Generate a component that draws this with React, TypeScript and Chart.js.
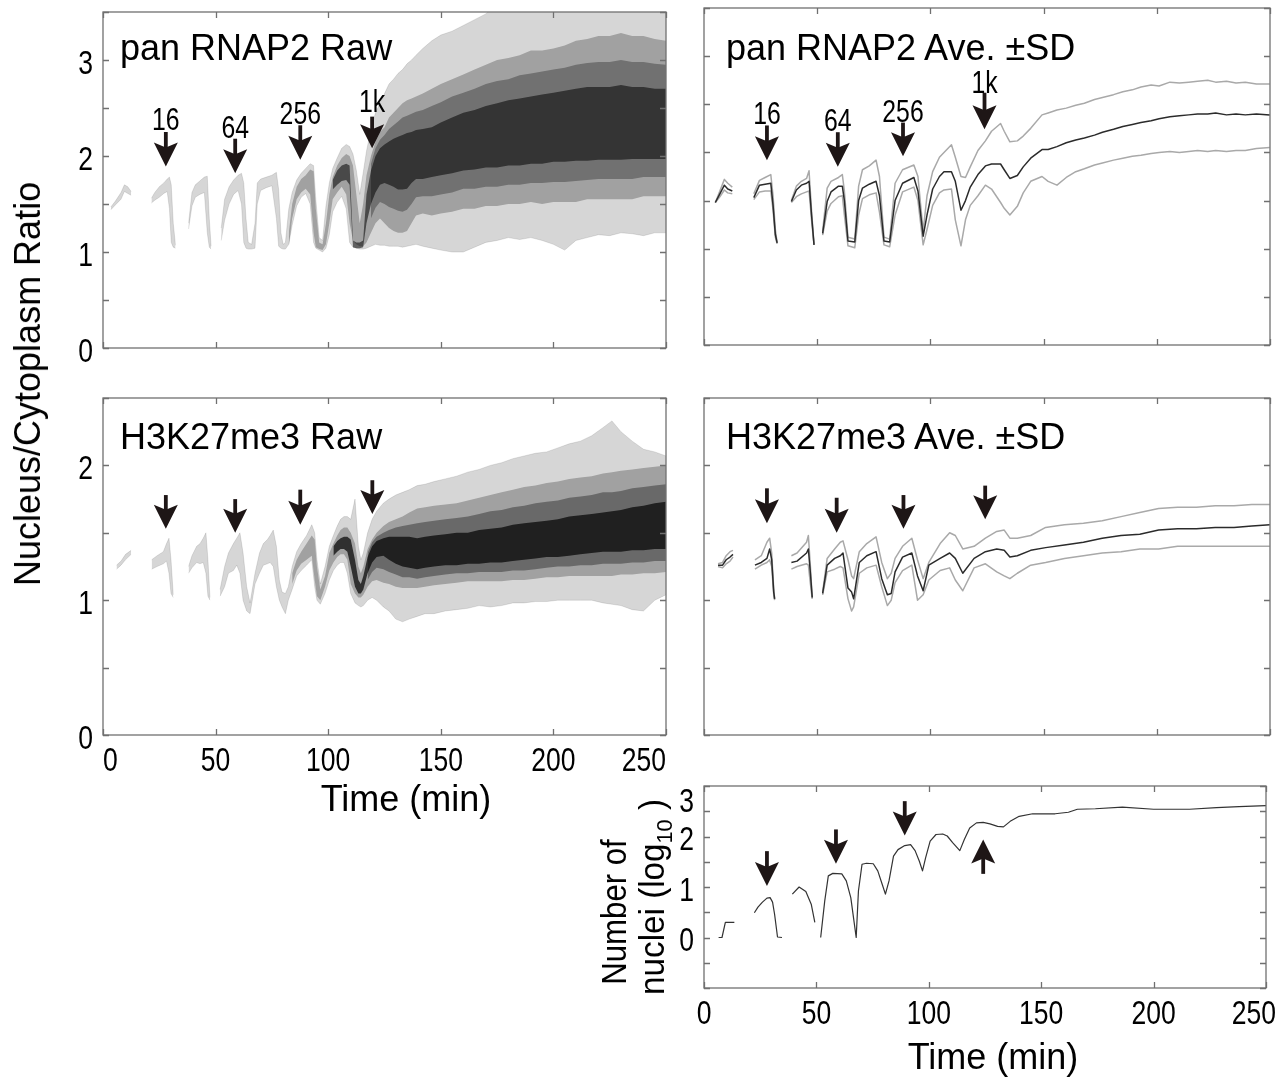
import React, { useEffect, useRef } from "react";
import { Chart, registerables } from "chart.js";
Chart.register(...registerables);

const W = 1286;
const H = 1082;
const OFF = 60;
const FONT = "'Liberation Sans', Arial, Helvetica, sans-serif";
const ARROW = "#1e1616";

// ---------- pan RNAP2 raw: envelope of all traces ----------
const panRawT = [
  3.5, 5.5, 8, 9.5, 11, 12.5, 17,
  21.5, 23, 25, 27, 28.5, 29.5, 30.3, 31.2, 32.2, 35,
  38, 39.5, 41, 43, 45, 46.3, 47.2, 48, 50,
  52.5, 54, 56, 58, 60, 61.5, 62.5, 63.5, 64.5, 66,
  67.5, 68.5, 70, 72.5, 75, 77, 78, 79, 80, 81,
  82.5, 84, 86, 88, 90, 92, 93.5, 94.5, 96, 97.5,
  99, 100.5, 102, 104, 106, 108, 109.5, 111, 112.5, 114,
  115.5, 117, 119, 121, 123, 125, 127, 129, 131, 133,
  135, 137, 139, 142, 146, 150, 155, 160, 165, 170,
  175, 180, 185, 190, 195, 200, 205, 210, 215, 220,
  225, 230, 235, 240, 245, 250,
];
const panOuterHi = [
  1.47, 1.53, 1.62, 1.7, 1.68, 1.63, null,
  1.56, 1.62, 1.68, 1.72, 1.76, 1.78, 1.7, 1.3, 1.07, null,
  1.3, 1.62, 1.7, 1.74, 1.78, 1.79, 1.35, 1.06, null,
  1.25, 1.55, 1.68, 1.75, 1.8, 1.82, 1.72, 1.35, 1.1, 1.08,
  1.3, 1.72, 1.76, 1.78, 1.8, 1.83, 1.65, 1.2, 1.08, 1.1,
  1.45, 1.62, 1.75, 1.82, 1.87, 1.92, 1.9, 1.55, 1.15, 1.12,
  1.48, 1.72, 1.87, 1.98, 2.08, 2.12, 2.1, 2.02, 1.85, 1.6,
  1.82, 2.05, 2.28, 2.45, 2.55, 2.65, 2.75, 2.8, 2.86, 2.9,
  2.96, 3.0, 3.05, 3.12, 3.2, 3.26, 3.3, 3.36, 3.42, 3.48,
  3.6, 3.6, 3.6, 3.6, 3.6, 3.6, 3.6, 3.6, 3.6, 3.6,
  3.6, 3.6, 3.6, 3.6, 3.6, 3.6,
];
const panOuterLo = [
  1.44, 1.49, 1.55, 1.63, 1.61, 1.59, null,
  1.51, 1.54, 1.57, 1.61, 1.63, 1.45, 1.1, 1.05, 1.04, null,
  1.24, 1.48, 1.57, 1.6, 1.62, 1.2, 1.05, 1.03, null,
  1.12, 1.33, 1.5, 1.6, 1.64, 1.5, 1.1, 1.04, 1.03, 1.03,
  1.04, 1.5, 1.64, 1.67, 1.69, 1.35, 1.06, 1.04, 1.03, 1.03,
  1.08, 1.28, 1.48, 1.57, 1.61, 1.5, 1.1, 1.04, 1.02, 1.0,
  1.04, 1.18, 1.42, 1.52, 1.58, 1.45, 1.1, 1.05, 1.04, 1.03,
  1.03, 1.04, 1.06, 1.08, 1.07, 1.07, 1.06, 1.06, 1.06, 1.05,
  1.06, 1.07, 1.08, 1.06, 1.04, 1.02, 1.0, 1.0, 1.05, 1.1,
  1.12, 1.15, 1.13, 1.15, 1.12, 1.08, 1.02, 1.12, 1.15, 1.18,
  1.17, 1.2, 1.19, 1.17, 1.2, 1.2,
];
// denser parts of the pan RNAP2 cloud
const panDenseT = [
  82.5, 84, 86, 88, 90, 92, 93.5, 94.5, 96, 97.5, 99,
  100.5, 102, 104, 106, 108, 109.5, 111, 112.5, 114, 115.5,
  117, 119, 121, 123, 125, 127, 129, 131, 133, 135,
  137, 139, 142, 146, 150, 155, 160, 165, 170, 175,
  180, 185, 190, 195, 200, 205, 210, 215, 220, 225,
  230, 235, 240, 245, 250,
];
const panMidLo = [
  1.06, 1.35, 1.55, 1.62, 1.66, 1.6, 1.2, 1.05, 1.03, 1.02, 1.08,
  1.3, 1.55, 1.62, 1.68, 1.6, 1.3, 1.12, 1.08, 1.06, 1.06,
  1.1, 1.2, 1.3, 1.35, 1.3, 1.25, 1.22, 1.2, 1.2, 1.22,
  1.3, 1.38, 1.4, 1.38, 1.4, 1.42, 1.45, 1.45, 1.48, 1.48,
  1.5, 1.5, 1.52, 1.5, 1.52, 1.52, 1.52, 1.55, 1.55, 1.55,
  1.55, 1.55, 1.58, 1.58, 1.58,
];
const panMidHi = [
  1.2, 1.5, 1.68, 1.76, 1.8, 1.86, 1.84, 1.45, 1.1, 1.08, 1.3,
  1.6, 1.78, 1.9, 1.98, 2.02, 2.0, 1.9, 1.6, 1.3, 1.5,
  1.8, 2.0, 2.15, 2.25, 2.3, 2.4, 2.45, 2.5, 2.55, 2.58,
  2.6, 2.62, 2.65, 2.7, 2.75, 2.8, 2.85, 2.9, 2.95, 3.0,
  3.02, 3.05, 3.1, 3.1, 3.12, 3.15, 3.2, 3.22, 3.25, 3.25,
  3.28, 3.25, 3.25, 3.22, 3.2,
];
const panInnerLo = [
  null, null, null, null, null, null, null, null, null, null, null,
  null, null, null, null, null, null, null, null, null, null,
  null, 1.35, 1.46, 1.52, 1.5, 1.47, 1.45, 1.43, 1.42, 1.44,
  1.5, 1.57, 1.58, 1.58, 1.6, 1.62, 1.66, 1.66, 1.68, 1.68,
  1.7, 1.7, 1.72, 1.72, 1.73, 1.73, 1.74, 1.75, 1.76, 1.76,
  1.76, 1.76, 1.78, 1.78, 1.78,
];
const panInnerHi = [
  null, null, null, null, null, null, null, null, null, null, null,
  null, null, null, null, null, null, null, null, null, null,
  null, 1.92, 2.08, 2.17, 2.22, 2.28, 2.32, 2.36, 2.4, 2.42,
  2.44, 2.46, 2.48, 2.52, 2.56, 2.62, 2.66, 2.7, 2.75, 2.78,
  2.8, 2.84, 2.86, 2.88, 2.9, 2.92, 2.95, 2.97, 2.98, 2.98,
  3.0, 2.98, 2.98, 2.96, 2.95,
];
const panCoreLo = [
  null, null, null, null, null, null, null, null, null, null, null,
  null, 1.65, 1.7, 1.74, 1.75, 1.7, 1.05, 1.04, 1.04, 1.05,
  1.3, 1.5, 1.62, 1.7, 1.72, 1.7, 1.68, 1.65, 1.65, 1.66,
  1.72, 1.76, 1.76, 1.78, 1.8, 1.82, 1.85, 1.86, 1.88, 1.88,
  1.9, 1.9, 1.92, 1.92, 1.94, 1.94, 1.95, 1.95, 1.96, 1.96,
  1.96, 1.97, 1.97, 1.97, 1.97,
];
const panCoreHi = [
  null, null, null, null, null, null, null, null, null, null, null,
  null, 1.75, 1.85, 1.9, 1.92, 1.9, 1.12, 1.1, 1.1, 1.12,
  1.6, 1.85, 2.0, 2.08, 2.12, 2.15, 2.18, 2.2, 2.22, 2.24,
  2.25, 2.27, 2.28, 2.3, 2.35, 2.4, 2.45, 2.48, 2.52, 2.55,
  2.58, 2.6, 2.62, 2.64, 2.66, 2.68, 2.7, 2.72, 2.72, 2.72,
  2.74, 2.72, 2.72, 2.7, 2.7,
];

// ---------- pan RNAP2 average +- SD ----------
const panAveT = [
  5, 7, 9, 10.5, 12.5, 17,
  22, 24.5, 27, 29.5, 30.5, 31.5, 32.3, 35,
  38.6, 40.8, 43, 45.3, 46.4, 47.5, 48.6, 50,
  52.4, 54.4, 56.1, 59.4, 61.1, 62, 63.6, 66.6, 68.3, 70,
  73, 76, 77.5, 79.5, 82, 84.4, 87.7, 92.7, 94.5, 96.8,
  98.5, 101, 104, 106, 109.3, 111, 113.5, 115.5, 117.6, 121,
  124.3, 127, 131, 132.6, 135.1, 138.4, 141, 144.3, 149.3, 152,
  155.9, 160, 164.2, 168, 172.5, 176, 180.9, 185, 189.2, 193,
  197.5, 201, 205.8, 210, 214.1, 218, 222.5, 226, 230.8, 235,
  239.1, 244, 249.9,
];
const panMean = [
  1.48, 1.57, 1.66, 1.62, 1.6, null,
  1.53, 1.66, 1.67, 1.68, 1.45, 1.15, 1.06, null,
  1.49, 1.61, 1.66, 1.68, 1.7, 1.35, 1.04, null,
  1.16, 1.49, 1.59, 1.65, 1.65, 1.5, 1.08, 1.07, 1.5, 1.63,
  1.67, 1.7, 1.55, 1.08, 1.07, 1.5, 1.68, 1.74, 1.6, 1.13,
  1.35, 1.62, 1.75, 1.8, 1.8, 1.7, 1.4, 1.5, 1.64, 1.77,
  1.86, 1.88, 1.88, 1.82, 1.73, 1.76, 1.85, 1.94, 2.03, 2.03,
  2.06, 2.1, 2.13, 2.15, 2.18, 2.21, 2.24, 2.27, 2.29, 2.31,
  2.33, 2.35, 2.37, 2.38, 2.39, 2.4, 2.4, 2.41, 2.39, 2.4,
  2.39, 2.4, 2.39,
];
const panUpper = [
  1.48, 1.6, 1.72, 1.68, 1.64, null,
  1.57, 1.71, 1.74, 1.77, 1.55, 1.2, 1.06, null,
  1.5, 1.65, 1.7, 1.73, 1.81, 1.4, 1.04, null,
  1.18, 1.63, 1.7, 1.74, 1.77, 1.6, 1.12, 1.1, 1.65, 1.82,
  1.86, 1.92, 1.75, 1.12, 1.1, 1.68, 1.82, 1.87, 1.75, 1.18,
  1.55, 1.8, 1.95, 2.0, 2.08, 1.95, 1.75, 1.74, 1.85, 2.02,
  2.12, 2.22, 2.3, 2.22, 2.11, 2.12, 2.17, 2.25, 2.39, 2.41,
  2.44, 2.46, 2.49, 2.51, 2.55, 2.57, 2.6, 2.63, 2.65, 2.68,
  2.7, 2.69, 2.73, 2.72, 2.73, 2.74, 2.75, 2.73, 2.74, 2.72,
  2.73, 2.71, 2.71,
];
const panLower = [
  1.48, 1.54, 1.61, 1.58, 1.57, null,
  1.51, 1.59, 1.6, 1.6, 1.4, 1.12, 1.05, null,
  1.48, 1.54, 1.57, 1.59, 1.6, 1.3, 1.04, null,
  1.14, 1.39, 1.47, 1.54, 1.55, 1.35, 1.03, 1.01, 1.35, 1.52,
  1.56, 1.58, 1.38, 1.04, 1.02, 1.35, 1.59, 1.64, 1.5, 1.04,
  1.2, 1.45, 1.58, 1.61, 1.62, 1.3, 1.03, 1.3, 1.45, 1.55,
  1.66, 1.62, 1.48, 1.42, 1.35, 1.44, 1.58, 1.7, 1.75, 1.7,
  1.66, 1.74, 1.8, 1.83, 1.87, 1.89, 1.92, 1.94, 1.96, 1.97,
  1.99, 2.0, 2.01, 2.0, 2.01, 2.02, 2.01, 2.02, 2.01, 2.02,
  2.02, 2.04, 2.05,
];

// ---------- H3K27me3 raw: envelope of all traces ----------
const h3RawT = [
  6, 8, 10, 12.5, 16,
  21.6, 24, 26.8, 28.2, 29.3, 30.2, 31.2, 34,
  38, 39.5, 41.6, 43.1, 44.5, 45.7, 46.6, 47.5, 50,
  52, 54, 55.7, 57.9, 59.4, 60.8, 62.2, 63.8, 65.3, 67.5,
  69.5, 71.2, 73, 74.2, 75.6, 77, 78.3, 79.5, 81, 82.3,
  84, 86, 88, 90.4, 92.7, 94, 95, 96.5, 98.6, 100.5,
  102.3, 104, 105.5, 107, 108.5, 110, 111.9, 113.4, 114.5, 115.6,
  117.5, 119.5, 121.5, 124.5, 127, 130, 133, 136, 139.5, 143,
  147, 152, 157, 162, 167, 172, 177, 182, 187, 192,
  197, 202, 207, 212, 217, 222, 226, 230, 235, 240,
  245, 250,
];
const h3OuterHi = [
  1.26, 1.29, 1.34, 1.37, null,
  1.3, 1.33, 1.36, 1.42, 1.46, 1.3, 1.04, null,
  1.25, 1.33, 1.4, 1.42, 1.46, 1.5, 1.3, 1.02, null,
  1.08, 1.25, 1.35, 1.42, 1.46, 1.5, 1.35, 1.1, 0.98, 1.2,
  1.35, 1.42, 1.45, 1.48, 1.52, 1.4, 1.15, 1.06, 1.05, 1.1,
  1.25, 1.36, 1.42, 1.48, 1.56, 1.5, 1.3, 1.12, 1.25, 1.4,
  1.48, 1.55, 1.6, 1.62, 1.62, 1.6, 1.75, 1.4, 1.3, 1.35,
  1.5, 1.6, 1.66, 1.72, 1.75, 1.78, 1.8, 1.82, 1.85, 1.86,
  1.88, 1.9, 1.92, 1.95, 1.97, 2.0, 2.02, 2.05, 2.07, 2.09,
  2.1, 2.13, 2.16, 2.18, 2.22, 2.28, 2.33, 2.25, 2.18, 2.12,
  2.1, 2.07,
];
const h3OuterLo = [
  1.23, 1.26, 1.3, 1.34, null,
  1.23, 1.25, 1.27, 1.29, 1.2, 1.05, 1.02, null,
  1.2, 1.24, 1.28, 1.27, 1.28, 1.2, 1.03, 1.0, null,
  1.03, 1.1, 1.2, 1.22, 1.26, 1.2, 1.0, 0.92, 0.9, 1.12,
  1.2, 1.26, 1.27, 1.28, 1.25, 1.1, 1.0, 0.95, 0.9, 1.0,
  1.08, 1.18, 1.22, 1.26, 1.3, 1.1, 1.0, 0.97, 1.05, 1.15,
  1.22, 1.26, 1.28, 1.28, 1.2, 1.05, 0.98, 0.96, 0.95, 0.96,
  1.0, 1.02, 1.0, 0.95, 0.92, 0.86, 0.84, 0.86, 0.88, 0.9,
  0.9, 0.92, 0.93, 0.94, 0.96, 0.95, 0.96, 0.98, 0.98, 0.99,
  0.99, 1.0, 1.0, 1.0, 1.0, 0.98, 0.97, 0.96, 0.93, 0.92,
  1.0, 1.04,
];
const h3DenseT = [
  84, 86, 88, 90.4, 92.7, 94, 95, 96.5, 98.6,
  100.5, 102.3, 104, 105.5, 107, 108.5, 110, 111.9, 113.4, 114.5,
  115.6, 117.5, 119.5, 121.5, 124.5, 127, 130, 133, 136, 139.5,
  143, 147, 152, 157, 162, 167, 172, 177, 182, 187,
  192, 197, 202, 207, 212, 217, 222, 226, 230, 235,
  240, 245, 250,
];
const h3MidLo = [
  1.12, 1.22, 1.27, 1.3, 1.33, 1.15, 1.03, 1.0, 1.1,
  1.22, 1.28, 1.32, 1.34, 1.34, 1.3, 1.12, 1.05, 1.02, 1.02,
  1.04, 1.1, 1.14, 1.15, 1.13, 1.12, 1.1, 1.09, 1.09, 1.09,
  1.1, 1.11, 1.12, 1.13, 1.14, 1.14, 1.14, 1.14, 1.15, 1.15,
  1.16, 1.17, 1.17, 1.18, 1.18, 1.18, 1.18, 1.18, 1.19, 1.19,
  1.2, 1.2, 1.21,
];
const h3MidHi = [
  1.2, 1.3, 1.36, 1.42, 1.48, 1.45, 1.25, 1.08, 1.18,
  1.35, 1.42, 1.48, 1.52, 1.54, 1.54, 1.5, 1.42, 1.25, 1.2,
  1.25, 1.38, 1.45, 1.5, 1.55, 1.58, 1.6, 1.62, 1.65, 1.68,
  1.69, 1.7, 1.71, 1.72, 1.74, 1.76, 1.78, 1.8, 1.82, 1.84,
  1.85, 1.87, 1.88, 1.9, 1.91, 1.92, 1.94, 1.95, 1.96, 1.97,
  1.98, 1.99, 2.0,
];
const h3InnerLo = [
  null, null, null, null, null, null, null, null, null,
  null, null, null, null, null, null, null, null, null, null,
  null, 1.15, 1.21, 1.24, 1.23, 1.21, 1.19, 1.17, 1.17, 1.16,
  1.17, 1.18, 1.19, 1.2, 1.2, 1.21, 1.21, 1.21, 1.22, 1.22,
  1.23, 1.24, 1.25, 1.25, 1.26, 1.26, 1.27, 1.27, 1.27, 1.28,
  1.28, 1.29, 1.29,
];
const h3InnerHi = [
  null, null, null, null, null, null, null, null, null,
  null, null, null, null, null, null, null, null, null, null,
  null, 1.35, 1.43, 1.47, 1.5, 1.52, 1.54, 1.55, 1.56, 1.57,
  1.58, 1.59, 1.6, 1.61, 1.62, 1.64, 1.66, 1.67, 1.69, 1.7,
  1.72, 1.73, 1.74, 1.76, 1.77, 1.78, 1.8, 1.8, 1.81, 1.83,
  1.84, 1.85, 1.86,
];
const h3CoreLo = [
  null, null, null, null, null, null, null, null, null,
  null, 1.33, 1.36, 1.38, 1.38, 1.36, 1.25, 1.1, 1.05, 1.05,
  1.08, 1.2, 1.28, 1.32, 1.33, 1.3, 1.27, 1.25, 1.24, 1.23,
  1.24, 1.25, 1.26, 1.26, 1.27, 1.27, 1.28, 1.28, 1.29, 1.3,
  1.31, 1.32, 1.32, 1.33, 1.34, 1.35, 1.36, 1.36, 1.36, 1.37,
  1.37, 1.38, 1.38,
];
const h3CoreHi = [
  null, null, null, null, null, null, null, null, null,
  null, 1.4, 1.44, 1.46, 1.47, 1.47, 1.45, 1.3, 1.15, 1.12,
  1.18, 1.32, 1.4, 1.44, 1.46, 1.47, 1.47, 1.47, 1.47, 1.46,
  1.47, 1.48, 1.49, 1.5, 1.5, 1.52, 1.53, 1.54, 1.56, 1.57,
  1.58, 1.59, 1.6, 1.62, 1.63, 1.64, 1.65, 1.66, 1.67, 1.69,
  1.7, 1.72, 1.73,
];

// ---------- H3K27me3 average +- SD ----------
const h3AveT = [
  6.2, 8.2, 9.8, 11.5, 12.8, 16,
  22.5, 25.3, 27.8, 29, 29.9, 30.8, 31.2, 34,
  38.6, 41.1, 45.3, 46.1, 47, 47.8, 50,
  52.4, 54.4, 57.7, 60.2, 61.4, 63.6, 65.2, 66.1, 68.6, 71.9,
  76, 78.5, 81, 82.7, 84.4, 87.7, 91.8, 94.3, 96.8, 99.3,
  104.3, 108.5, 111, 114.3, 119.3, 124.3, 129.3, 132.6, 135.1, 138.4,
  144.3, 150.9, 159.2, 167.6, 175.9, 184.2, 192.5, 200.8, 209.2, 217.5,
  225.8, 234.1, 242, 249.9,
];
const h3Mean = [
  1.26, 1.26, 1.3, 1.32, 1.34, null,
  1.26, 1.28, 1.31, 1.38, 1.3, 1.06, 1.01, null,
  1.28, 1.29, 1.35, 1.38, 1.2, 1.02, null,
  1.05, 1.26, 1.31, 1.33, 1.35, 1.09, 1.06, 1.01, 1.28, 1.33,
  1.36, 1.16, 1.04, 1.05, 1.21, 1.32, 1.35, 1.18, 1.07, 1.26,
  1.31, 1.35, 1.31, 1.2, 1.31, 1.36, 1.38, 1.37, 1.32, 1.33,
  1.37, 1.39, 1.41, 1.43, 1.46, 1.48, 1.49, 1.52, 1.53, 1.53,
  1.54, 1.54, 1.55, 1.56,
];
const h3Upper = [
  1.27, 1.28, 1.33, 1.36, 1.37, null,
  1.3, 1.33, 1.43, 1.46, 1.35, 1.08, 1.01, null,
  1.33, 1.35, 1.43, 1.48, 1.25, 1.02, null,
  1.06, 1.31, 1.38, 1.43, 1.44, 1.3, 1.18, 1.16, 1.36, 1.42,
  1.47, 1.28, 1.16, 1.2, 1.31, 1.4, 1.46, 1.3, 1.16, 1.28,
  1.42, 1.5, 1.48, 1.38, 1.4, 1.46, 1.51, 1.52, 1.46, 1.46,
  1.48, 1.54, 1.56, 1.57, 1.59, 1.62, 1.65, 1.68, 1.69, 1.69,
  1.7, 1.7, 1.71, 1.71,
];
const h3Lower = [
  1.25, 1.24, 1.27, 1.29, 1.32, null,
  1.23, 1.26, 1.28, 1.3, 1.25, 1.04, 1.0, null,
  1.23, 1.25, 1.27, 1.26, 1.12, 1.01, null,
  1.04, 1.21, 1.23, 1.25, 1.24, 1.01, 0.92, 0.95, 1.2, 1.24,
  1.26, 1.1, 0.96, 1.0, 1.13, 1.22, 1.26, 1.0, 1.04, 1.15,
  1.22, 1.24, 1.15, 1.07, 1.24, 1.27, 1.21, 1.18, 1.16, 1.2,
  1.26, 1.28, 1.31, 1.33, 1.35, 1.36, 1.38, 1.38, 1.4, 1.4,
  1.4, 1.4, 1.4, 1.4,
];

// ---------- Number of nuclei (log10) ----------
const nucT = [
  6.5, 8, 9.5, 13.5, 18,
  22.4, 24, 26, 28, 29.4, 30.5, 31.4, 32.7, 34.7, 37,
  39.3, 42.3, 45.3, 47.7, 49.3, 50.5,
  51.9, 53.7, 55.3, 57.3, 61.3, 63.3, 65.3, 66.7, 67.7, 68.7,
  70.3, 72.3, 75.3, 77.3, 79.3, 80.7, 82.3, 84.3, 86.3, 89.3,
  91.9, 93.9, 95.8, 97.2, 98.6, 100.6, 103.2, 106.2, 108.2, 110.6,
  113.8, 115.8, 118.2, 121.2, 124.2, 127.2, 130.6, 133.2, 136.2, 140.2,
  146.2, 156.2, 162.1, 166.1, 174.1, 186.1, 200, 216, 228, 238,
  250,
];
const nucLog = [
  0, 0, 0.3, 0.3, null,
  0.49, 0.6, 0.7, 0.78, 0.79, 0.7, 0.46, 0.01, 0, null,
  0.86, 1.0, 0.91, 0.66, 0.3, null,
  0, 0.72, 1.22, 1.27, 1.26, 1.12, 0.79, 0.33, 0, 0.92,
  1.45, 1.47, 1.46, 1.32, 1.05, 0.86, 1.12, 1.61, 1.74, 1.82,
  1.84, 1.72, 1.51, 1.32, 1.58, 1.91, 2.04, 2.05, 2.01, 1.88,
  1.72, 1.94, 2.17, 2.27, 2.28, 2.25, 2.2, 2.19, 2.3, 2.4,
  2.45, 2.45, 2.48, 2.54, 2.55, 2.58, 2.54, 2.54, 2.57, 2.59,
  2.61,
];

// ---------- arrows (time, tip, tail, label, label height) ----------
const cycleLabels = ["16", "64", "256", "1k"];
const panRawArrowT = [27.9, 58.7, 87.6, 119.5];
const panRawArrowTip = [1.89, 1.82, 1.96, 2.08];
const panRawArrowTail = [2.25, 2.18, 2.32, 2.41];
const panRawLabelY = [2.39, 2.3, 2.45, 2.57];
const panAveArrowT = [27.8, 59.1, 87.9, 123.9];
const panAveArrowTip = [1.92, 1.85, 1.96, 2.24];
const panAveArrowTail = [2.28, 2.21, 2.31, 2.62];
const panAveLabelY = [2.41, 2.34, 2.43, 2.73];
const h3RawArrowT = [27.9, 58.7, 87.6, 119.6];
const h3RawArrowTip = [1.53, 1.5, 1.56, 1.64];
const h3RawArrowTail = [1.78, 1.75, 1.82, 1.89];
const h3AveArrowT = [27.8, 58.6, 88.1, 124.2];
const h3AveArrowTip = [1.57, 1.5, 1.53, 1.6];
const h3AveArrowTail = [1.83, 1.76, 1.78, 1.85];
const nucArrowT = [28, 58.7, 89.3, 124.2];
const nucArrowTip = [1.02, 1.46, 2.02, 1.94];
const nucArrowTail = [1.71, 2.14, 2.7, 1.26];

// ---------- helpers ----------
const pts = (t: number[], v: (number | null)[]) => t.map((x, i) => ({ x, y: v[i] }));

function band(t: number[], lo: any[], hi: any[], fill: string, edge: string) {
  return [
    { data: pts(t, hi), borderColor: edge, borderWidth: 0.8, backgroundColor: fill, fill: "+1" },
    { data: pts(t, lo), borderColor: edge, borderWidth: 0.8, backgroundColor: "rgba(0,0,0,0)", fill: false },
  ];
}
function line(t: number[], v: any[], color: string, width: number) {
  return { data: pts(t, v), borderColor: color, borderWidth: width, fill: false };
}

// condensed text (the figure's digits are narrow)
function narrowText(ctx: any, text: string, x: number, baseline: number, size: number, sx: number, align: string) {
  ctx.save();
  ctx.font = `${size}px ${FONT}`;
  const w = ctx.measureText(text).width * sx;
  const x0 = align === "center" ? x - w / 2 : align === "right" ? x - w : x;
  ctx.translate(x0, baseline);
  ctx.scale(sx, 1);
  ctx.textAlign = "left";
  ctx.textBaseline = "alphabetic";
  ctx.fillStyle = "#000";
  ctx.fillText(text, 0, 0);
  ctx.restore();
  return w;
}

const TICK_SIZE = 34;
const TICK_SX = 0.78;

function framePlugin(p: any) {
  return {
    id: "frame",
    afterDatasetsDraw(chart: any) {
      const { ctx, chartArea: a, scales } = chart;
      const xs = scales.x;
      const ys = scales.y;
      ctx.save();
      ctx.strokeStyle = "#707070";
      ctx.lineWidth = 1.3;
      ctx.strokeRect(a.left, a.top, a.right - a.left, a.bottom - a.top);
      const L = 6;
      ctx.beginPath();
      xs.ticks.forEach((tk: any) => {
        const px = Math.round(xs.getPixelForValue(tk.value)) + 0.5;
        ctx.moveTo(px, a.bottom);
        ctx.lineTo(px, a.bottom - L);
        ctx.moveTo(px, a.top);
        ctx.lineTo(px, a.top + L);
      });
      ys.ticks.forEach((tk: any) => {
        const py = Math.round(ys.getPixelForValue(tk.value)) + 0.5;
        ctx.moveTo(a.left, py);
        ctx.lineTo(a.left + L, py);
        ctx.moveTo(a.right, py);
        ctx.lineTo(a.right - L, py);
      });
      ctx.stroke();
      ctx.restore();

      const capH = 0.716 * TICK_SIZE;
      if (p.showY) {
        ys.ticks.forEach((tk: any) => {
          const v = tk.value;
          if (!Number.isInteger(v) || v < p.labelMin) return;
          let base = ys.getPixelForValue(v) + capH / 2 + 1.5;
          if (base - capH < a.top + 1) base = a.top + capH + 2;
          narrowText(ctx, String(v), a.left - 10, base, TICK_SIZE, TICK_SX, "right");
        });
      }
      if (p.showX) {
        const n = xs.ticks.length;
        const maxRight = chart.width - OFF - 10;
        xs.ticks.forEach((tk: any, i: number) => {
          const txt = String(tk.value);
          const px = xs.getPixelForValue(tk.value);
          const base = a.bottom + 36;
          let align = "center";
          let x = px;
          if (p.xInner && i === 0) { align = "left"; x = a.left; }
          if (p.xInner && i === n - 1) { align = "right"; x = a.right; }
          if (align === "center") {
            ctx.font = `${TICK_SIZE}px ${FONT}`;
            const w = ctx.measureText(txt).width * TICK_SX;
            if (x + w / 2 > maxRight) x = maxRight - w / 2;
          }
          narrowText(ctx, txt, x, base, TICK_SIZE, TICK_SX, align);
        });
      }
    },
  };
}

function arrowPlugin(ts: number[], tips: number[], tails: number[], labels?: string[], labelYs?: number[]) {
  return {
    id: "arrows",
    afterDatasetsDraw(chart: any) {
      const { ctx, scales } = chart;
      const xs = scales.x;
      const ys = scales.y;
      ctx.save();
      ts.forEach((t, i) => {
        const px = xs.getPixelForValue(t);
        const yTip = ys.getPixelForValue(tips[i]);
        const yTail = ys.getPixelForValue(tails[i]);
        const dir = yTail < yTip ? 1 : -1;
        const headL = 24;
        const headW = 12;
        const notch = 5;
        const yBase = yTip - dir * headL;
        ctx.strokeStyle = ARROW;
        ctx.fillStyle = ARROW;
        ctx.lineWidth = 3.8;
        ctx.beginPath();
        ctx.moveTo(px, yTail);
        ctx.lineTo(px, yBase + dir * (notch + 2));
        ctx.stroke();
        ctx.beginPath();
        ctx.moveTo(px, yTip);
        ctx.lineTo(px - headW, yBase);
        ctx.lineTo(px, yBase + dir * notch);
        ctx.lineTo(px + headW, yBase);
        ctx.closePath();
        ctx.fill();
        if (labels && labelYs) {
          const size = 31;
          narrowText(ctx, labels[i], px, ys.getPixelForValue(labelYs[i]) + 0.358 * size, size, 0.8, "center");
        }
      });
      ctx.restore();
    },
  };
}

const OUTER = "rgba(0,0,0,0.16)";
const MID = "rgba(0,0,0,0.25)";
const EDGE = "rgba(0,0,0,0.14)";
const NONE = "rgba(0,0,0,0)";
const SD = "#a9a9a9";
const MEAN = "#2b2b2b";

const panels: any[] = [
  {
    left: 103, top: 12, right: 666, bottom: 348, yMin: 0, yMax: 3.5, showX: false, showY: true, labelMin: 0,
    datasets: [
      ...band(panRawT, panOuterLo, panOuterHi, OUTER, EDGE),
      ...band(panDenseT, panMidLo, panMidHi, MID, NONE),
      ...band(panDenseT, panInnerLo, panInnerHi, "rgba(0,0,0,0.3)", NONE),
      ...band(panDenseT, panCoreLo, panCoreHi, "rgba(0,0,0,0.55)", NONE),
    ],
    arrows: arrowPlugin(panRawArrowT, panRawArrowTip, panRawArrowTail, cycleLabels, panRawLabelY),
  },
  {
    left: 704, top: 8, right: 1270, bottom: 345, yMin: 0, yMax: 3.5, showX: false, showY: false, labelMin: 0,
    datasets: [
      line(panAveT, panMean, MEAN, 1.5),
      line(panAveT, panUpper, SD, 1.5),
      line(panAveT, panLower, SD, 1.5),
    ],
    arrows: arrowPlugin(panAveArrowT, panAveArrowTip, panAveArrowTail, cycleLabels, panAveLabelY),
  },
  {
    left: 103, top: 398, right: 666, bottom: 735, yMin: 0, yMax: 2.5, showX: true, xInner: true, showY: true, labelMin: 0,
    datasets: [
      ...band(h3RawT, h3OuterLo, h3OuterHi, OUTER, EDGE),
      ...band(h3DenseT, h3MidLo, h3MidHi, MID, NONE),
      ...band(h3DenseT, h3InnerLo, h3InnerHi, "rgba(0,0,0,0.35)", NONE),
      ...band(h3DenseT, h3CoreLo, h3CoreHi, "rgba(0,0,0,0.7)", NONE),
    ],
    arrows: arrowPlugin(h3RawArrowT, h3RawArrowTip, h3RawArrowTail),
  },
  {
    left: 704, top: 398, right: 1270, bottom: 735, yMin: 0, yMax: 2.5, showX: false, showY: false, labelMin: 0,
    datasets: [
      line(h3AveT, h3Mean, MEAN, 1.5),
      line(h3AveT, h3Upper, SD, 1.5),
      line(h3AveT, h3Lower, SD, 1.5),
    ],
    arrows: arrowPlugin(h3AveArrowT, h3AveArrowTip, h3AveArrowTail),
  },
  {
    left: 704, top: 786, right: 1266, bottom: 988, yMin: -1, yMax: 3, showX: true, xInner: false, showY: true, labelMin: 0,
    datasets: [line(nucT, nucLog, "#333", 1.2)],
    arrows: arrowPlugin(nucArrowT, nucArrowTip, nucArrowTail),
  },
];

const CW = W + 2 * OFF;
const CH = H + 2 * OFF;

function makeConfig(p: any): any {
  return {
    type: "line",
    data: { datasets: p.datasets },
    options: {
      animation: false,
      responsive: false,
      devicePixelRatio: 1,
      events: [],
      spanGaps: false,
      layout: { padding: { left: 0, top: p.top + OFF, right: CW - (p.right + OFF), bottom: 0 } },
      plugins: { legend: { display: false }, tooltip: { enabled: false } },
      elements: { point: { radius: 0 }, line: { tension: 0, borderJoinStyle: "round" } },
      scales: {
        x: {
          type: "linear",
          min: 0,
          max: 250,
          afterFit: (s: any) => { s.height = CH - (p.bottom + OFF); },
          grid: { display: false, drawTicks: false },
          border: { display: false },
          ticks: { display: false, stepSize: 50, autoSkip: false },
        },
        y: {
          type: "linear",
          min: p.yMin,
          max: p.yMax,
          afterFit: (s: any) => { s.width = p.left + OFF; },
          grid: { display: false, drawTicks: false },
          border: { display: false },
          ticks: { display: false, stepSize: 0.5, autoSkip: false },
        },
      },
    },
    plugins: [framePlugin(p), p.arrows],
  };
}

const txt = (extra: any): any => ({
  position: "absolute",
  fontFamily: FONT,
  color: "#000",
  lineHeight: 1,
  whiteSpace: "nowrap",
  ...extra,
});

export default function App() {
  const refs = useRef<(HTMLCanvasElement | null)[]>([]);
  useEffect(() => {
    const charts = panels.map((p, i) => new Chart(refs.current[i] as HTMLCanvasElement, makeConfig(p)));
    return () => charts.forEach((c) => c.destroy());
  }, []);
  return (
    <div style={{ position: "absolute", left: 0, top: 0, width: W, height: H, background: "#fff", overflow: "hidden" }}>
      {panels.map((_, i) => (
        <canvas
          key={i}
          ref={(el) => { refs.current[i] = el; }}
          width={CW}
          height={CH}
          style={{ position: "absolute", left: -OFF, top: -OFF, width: CW, height: CH }}
        />
      ))}
      <div style={txt({ left: 120, top: 30, fontSize: 36 })}>pan RNAP2 Raw</div>
      <div style={txt({ left: 726, top: 30, fontSize: 36 })}>pan RNAP2 Ave. ±SD</div>
      <div style={txt({ left: 120, top: 419, fontSize: 36 })}>H3K27me3 Raw</div>
      <div style={txt({ left: 726, top: 419, fontSize: 36 })}>H3K27me3 Ave. ±SD</div>
      <div style={txt({ left: 28, top: 384, fontSize: 36, transform: "translate(-50%, -50%) rotate(-90deg)" })}>
        Nucleus/Cytoplasm Ratio
      </div>
      <div style={txt({ left: 406, top: 781, fontSize: 36, transform: "translateX(-50%)" })}>Time (min)</div>
      <div style={txt({ left: 993, top: 1039, fontSize: 36, transform: "translateX(-50%)" })}>Time (min)</div>
      <div style={txt({ left: 613, top: 912, fontSize: 35, transform: "translate(-50%, -50%) rotate(-90deg) scaleX(0.89)" })}>
        Number of
      </div>
      <div style={txt({ left: 651, top: 897, fontSize: 35, transform: "translate(-50%, -50%) rotate(-90deg) scaleX(0.95)" })}>
        nuclei (log<sub style={{ fontSize: "65%", lineHeight: 0 }}>10</sub> )
      </div>
    </div>
  );
}
